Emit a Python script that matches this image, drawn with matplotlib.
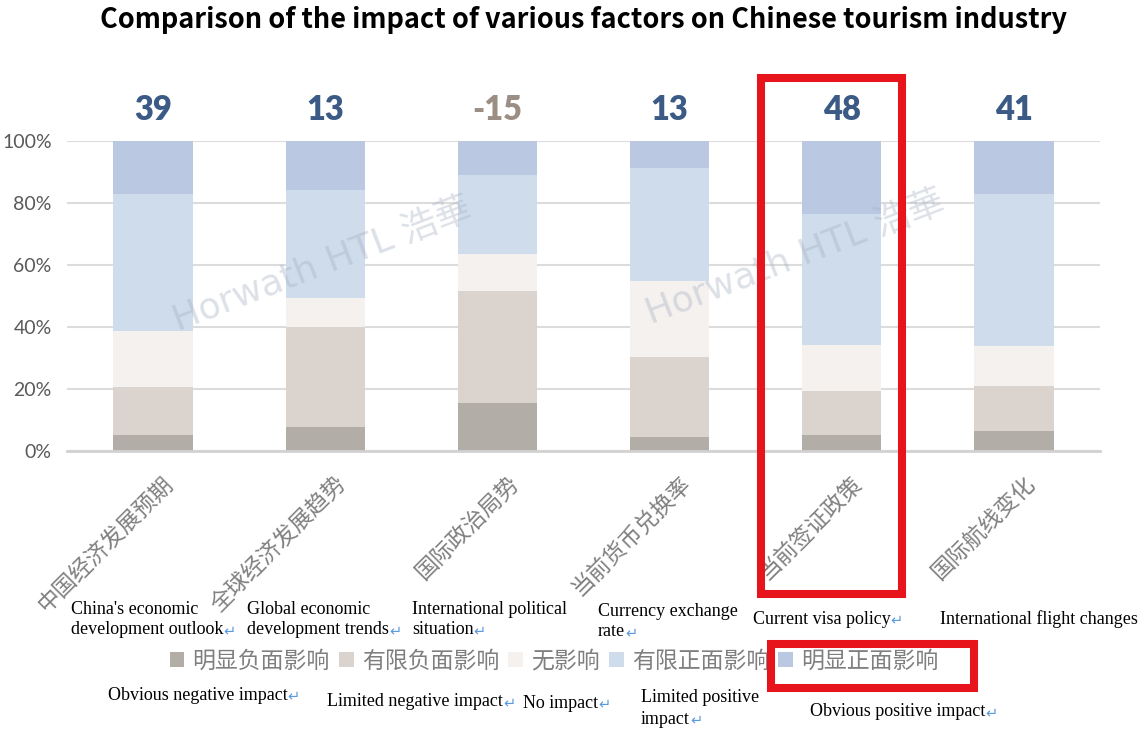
import matplotlib
matplotlib.use('Agg')
import matplotlib.pyplot as plt
import matplotlib.transforms as mtransforms
from matplotlib.patches import Rectangle
import numpy as np

plt.rcParams['font.family'] = ['Noto Sans CJK SC', 'DejaVu Sans']

# data (percent of respondents)
factors = ['中国经济发展预期', '全球经济发展趋势', '国际政治局势',
           '当前货币兑换率', '当前签证政策', '国际航线变化']
scores = [39, 13, -15, 13, 48, 41]
obvious_neg = [5.1, 7.7, 15.5, 4.5, 5.1, 6.4]
limited_neg = [15.4, 32.3, 36.1, 25.8, 14.3, 14.6]
no_impact = [18.2, 9.5, 11.8, 24.7, 14.7, 12.8]
limited_pos = [44.3, 34.6, 25.6, 36.3, 42.3, 49.2]
obvious_pos = [17.0, 15.9, 11.0, 8.7, 23.6, 17.0]
series_names = ['明显负面影响', '有限负面影响', '无影响', '有限正面影响', '明显正面影响']
series_colors = ['#b3ada7', '#dbd3cd', '#f5f1ef', '#cfdcec', '#bac8e2']

factor_en = [["China's economic", "development outlook"],
             ["Global economic", "development trends"],
             ["International political", "situation"],
             ["Currency exchange", "rate"],
             ["Current visa policy"],
             ["International flight changes"]]
series_en = [["Obvious negative impact"],
             ["Limited negative impact"],
             ["No impact"],
             ["Limited positive", "impact"],
             ["Obvious positive impact"]]

W, H = 1144, 729


def fx(px):
    return px / W


def fy(py):
    return 1 - py / H


fig = plt.figure(figsize=(W / 100, H / 100), dpi=100)
ax = fig.add_axes([fx(67), fy(451), fx(1100) - fx(67), fy(141) - fy(451)])

x = np.arange(len(factors))
series = [obvious_neg, limited_neg, no_impact, limited_pos, obvious_pos]
bottom = np.zeros(len(factors))
handles = []
for vals, name, col in zip(series, series_names, series_colors):
    h = ax.bar(x, vals, 0.46, bottom=bottom, color=col, label=name, zorder=3)
    handles.append(h)
    bottom += np.array(vals)

ax.set_xlim(-0.5, 5.5)
ax.set_ylim(0, 100)
ax.set_yticks(np.arange(0, 101, 20))
ax.set_yticklabels([f'{v}%' for v in range(0, 101, 20)], family='Lato',
                   fontsize=14, color='#595959')
ax.yaxis.grid(True, color='#dcdcdc', lw=1.5, zorder=0)
ax.tick_params(axis='y', length=0, pad=11)
for s in ['left', 'right', 'top']:
    ax.spines[s].set_visible(False)
ax.spines['bottom'].set_color('#d2d2d2')
ax.spines['bottom'].set_linewidth(2)
ax.spines['bottom'].set_zorder(4)

ax.set_xticks(x)
ax.set_xticklabels(factors, fontsize=16.3, color='#808080', rotation=45,
                   ha='right', va='center', rotation_mode='anchor')
ax.tick_params(axis='x', length=0, pad=21)
shift = mtransforms.ScaledTranslation(0.17, 0, fig.dpi_scale_trans)
for lab in ax.get_xticklabels():
    lab.set_transform(lab.get_transform() + shift)

for i, sc in enumerate(scores):
    col = '#9b8e84' if sc < 0 else '#3b5a86'
    ax.text(i, 110, f'{sc}', ha='center', va='center', fontsize=23.5,
            fontweight='heavy', family='Lato', color=col, clip_on=False)

# watermark
for cx, cy in [(322, 265), (795, 258)]:
    fig.text(fx(cx), fy(cy), 'Horwath HTL 浩華', ha='center', va='center',
             rotation=21, fontsize=26, color='#a9b3c3', alpha=0.4,
             family=['DejaVu Sans', 'Noto Sans CJK SC'], zorder=10)

fig.text(fx(584), fy(20),
         'Comparison of the impact of various factors on Chinese tourism industry',
         ha='center', va='center', fontsize=19.5, fontweight='bold', color='black')

fig.legend(handles=handles, labels=series_names, ncol=5, loc='center',
           bbox_to_anchor=(fx(554), fy(661)), frameon=False, fontsize=16.5,
           labelcolor='#7f7f7f', handlelength=0.65, handleheight=0.6,
           handletextpad=0.35, columnspacing=0.4)

# English annotations (Word-style, with paragraph marks)
ann_pos = [(71, 609), (247, 609), (412, 609), (598, 611), (753, 619), (940, 619),
           (108, 695), (327, 702), (523, 703), (641, 698), (810, 712)]
ann_texts = factor_en + series_en
for k, (lines, (px, py)) in enumerate(zip(ann_texts, ann_pos)):
    t = None
    for j, line in enumerate(lines):
        t = fig.text(fx(px), fy(py + 21 * j), line, ha='left', va='center',
                     fontsize=13, family='Liberation Serif', color='black')
    if k != 5:
        ax.annotate('↵', xy=(1, 0.45), xycoords=t, xytext=(0, 0),
                    textcoords='offset points', ha='left', va='center',
                    fontsize=10.5, color='#5a9be0', family='DejaVu Sans',
                    annotation_clip=False)

# red highlight boxes
for x0, y0, x1, y1 in [(761, 78, 902, 594), (771, 644, 974, 688)]:
    fig.add_artist(Rectangle((fx(x0), fy(y1)), fx(x1) - fx(x0), fy(y0) - fy(y1),
                             transform=fig.transFigure, fill=False,
                             ec='#e8141b', lw=5.8, zorder=20))

fig.savefig('out.png', dpi=100)
